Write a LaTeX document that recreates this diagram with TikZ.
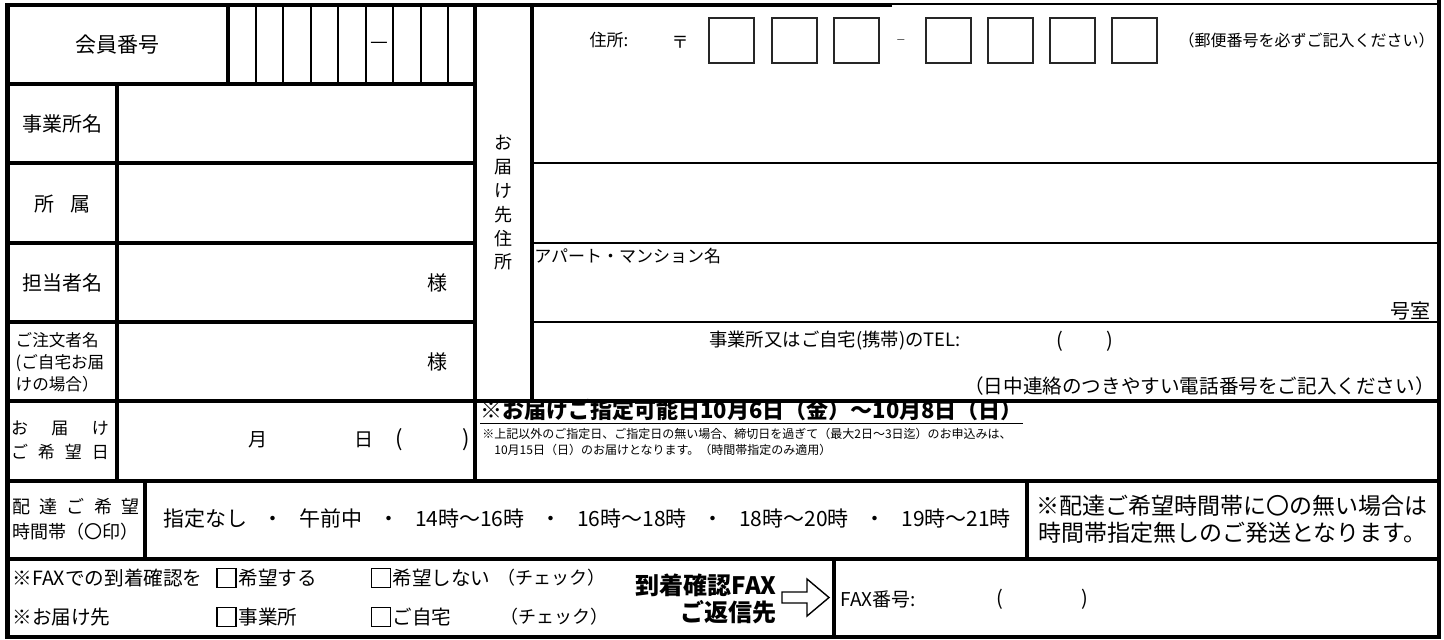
\documentclass[tikz,border=0pt]{standalone}
\usepackage{fontspec}
\setmainfont{Noto Sans CJK JP}
\newcommand\sepdot{\hspace{0.75em}・\hspace{0.75em}}
\begin{document}
\begin{tikzpicture}[x=0.5pt,y=-0.5pt,
    every node/.style={inner sep=0pt,font=\fontsize{10}{12}\selectfont},
    rule/.style={line width=2.2pt},
    mid/.style={line width=1pt},
    hair/.style={line width=0.7pt},
    zipbox/.style={draw=black!85,line width=1pt,minimum size=22.5pt},
    tick/.style={draw,line width=0.6pt,minimum size=9.5pt},
    fs/.style={font=\fontsize{#1}{#1}\selectfont}]
  \useasboundingbox (0,0) rectangle (1444,639);
  \draw[rule] (892,5) -- (7.5,5) -- (7.5,637) -- (1439,637) -- (1439,0);
  \draw[line width=1.35pt] (892,4) -- (1439,4);
  \draw[rule] (7.5,84) -- (475,84) (7.5,163) -- (475,163) (7.5,243) -- (475,243)
              (7.5,322) -- (475,322) (7.5,401) -- (1439,401) (7.5,481) -- (1439,481)
              (7.5,559) -- (1439,559);
  \draw[rule] (228,5) -- (228,84) (117,84) -- (117,481) (475,5) -- (475,481)
              (532,5) -- (532,401) (145,481) -- (145,559) (1027,481) -- (1027,559)
              (834,559) -- (834,637);
  \draw[mid] (532,163) -- (1439,163) (532,243) -- (1439,243) (532,322) -- (1439,322);
  \draw[hair] (256,5) -- (256,84) (283,5) -- (283,84) (311,5) -- (311,84)
              (338,5) -- (338,84) (366,5) -- (366,84) (393,5) -- (393,84)
              (421,5) -- (421,84) (448,5) -- (448,84);
  \path (117.5,45) node[fs=10.5] (member) {会員番号}
        (379.5,45) node (dash) {—}
        (62,124) node (office) {事業所名}
        (62,204) node (dept) {所\hspace{0.8em}属}
        (62,283) node (staff) {担当者名}
        (60,362) node[align=left,font=\fontsize{8.3}{11}\selectfont] (orderer)
             {ご注文者名\\(ご自宅お届\\けの場合）}
        (437,283) node (sama) {様}
        (437,362) node (sama2) {様}
        (503,203) node[align=center,font=\fontsize{9}{11.9}\selectfont] (dest)
             {お\\届\\け\\先\\住\\所};
  \path (609,40) node[fs=8.5] (addr) {住所:}
        (680,42) node[fs=8.5] (postmark) {〒}
        (731.5,40.5) node[zipbox] (zipa) {}
        (794,40.5) node[zipbox] (zipb) {}
        (856,40.5) node[zipbox] (zipc) {}
        (901,42) node[fs=8,black!60] (zipdash) {–}
        (948.5,40.5) node[zipbox] (zipd) {}
        (1010.5,40.5) node[zipbox] (zipe) {}
        (1072.5,40.5) node[zipbox] (zipf) {}
        (1134.5,40.5) node[zipbox] (zipg) {}
        (1435,40) node[anchor=east,fs=8] (zipnote) {（郵便番号を必ずご記入ください）}
        (534,256) node[anchor=west,fs=8.5] (apt) {アパート・マンション名}
        (1431,311) node[anchor=east] (room) {号室}
        (835,341) node[fs=9.2] (tel) {事業所又はご自宅(携帯)のTEL:}
        (1060,341) node[fs=10] (telo) {(}
        (1110,341) node[fs=10] (telc) {)}
        (1435,386) node[anchor=east,fs=9.8] (telnote) {（日中連絡のつきやすい電話番号をご記入ください）};
  \path (60,440) node[align=left,font=\fontsize{8.5}{12}\selectfont] (datelbl)
             {\makebox[49pt][s]{お\hfill 届\hfill け}\\\makebox[49pt][s]{ご\hfill 希\hfill 望\hfill 日}}
        (258,440) node[fs=9.5] (month) {月}
        (364,440) node[fs=9.5] (day) {日}
        (399,440) node[fs=11] (wdo) {(}
        (466,440) node[fs=11] (wdc) {)}
        (480,412) node[anchor=west,font=\fontsize{11}{13}\selectfont\bfseries] (avail)
             {\underline{※お届けご指定可能日10月6日（金）～10月8日（日）}}
        (482,442) node[anchor=west,align=left,font=\fontsize{6}{8}\selectfont] (availnote)
             {※上記以外のご指定日、ご指定日の無い場合、締切日を過ぎて（最大2日～3日迄）のお申込みは、\\
              \hspace*{1em}10月15日（日）のお届けとなります。（時間帯指定のみ適用）};
  \path (76,519) node[align=left,font=\fontsize{9}{12.5}\selectfont] (timelbl)
             {\makebox[64pt][s]{配\hfill 達\hfill ご\hfill 希\hfill 望}\\時間帯（〇印）}
        (587,519) node[fs=10.5] (slots)
             {指定なし\sepdot 午前中\sepdot 14時～16時\sepdot 16時～18時\sepdot 18時～20時\sepdot 19時～21時}
        (1232,519) node[align=center,font=\fontsize{11.5}{13.5}\selectfont] (slotnote)
             {※配達ご希望時間帯に〇の無い場合は\\時間帯指定無しのご発送となります。};
  \path (12,578) node[anchor=west,fs=9.8] (faxq) {※FAXでの到着確認を}
        (226.5,578) node[tick] (want) {}
        (238,578) node[anchor=west,fs=9.8] (wantlbl) {希望する}
        (381,578) node[tick] (nowant) {}
        (392,578) node[anchor=west,fs=9.8] (nowantlbl) {希望しない}
        (497,578) node[anchor=west,fs=9] (checka) {（チェック）}
        (12,617) node[anchor=west,fs=9.8] (destq) {※お届け先}
        (226.5,617) node[tick] (biz) {}
        (238,617) node[anchor=west,fs=9.8] (bizlbl) {事業所}
        (381,617) node[tick] (home) {}
        (392,617) node[anchor=west,fs=9.8] (homelbl) {ご自宅}
        (500,617) node[anchor=west,fs=9] (checkb) {（チェック）}
        (777,585) node[anchor=east,font=\fontsize{12}{14}\selectfont\bfseries] (replya) {到着確認FAX}
        (777,612) node[anchor=east,font=\fontsize{12}{14}\selectfont\bfseries] (replyb) {ご返信先}
        (840,599) node[anchor=west,fs=9.5] (faxno) {FAX番号:}
        (1000,599) node[fs=10] (faxo) {(}
        (1085,599) node[fs=10] (faxc) {)};
  \draw[line width=0.7pt] (782,592) -- (807,592) -- (807,579) -- (829,597.5)
        -- (807,616) -- (807,603) -- (782,603) -- cycle;
\end{tikzpicture}
\end{document}
